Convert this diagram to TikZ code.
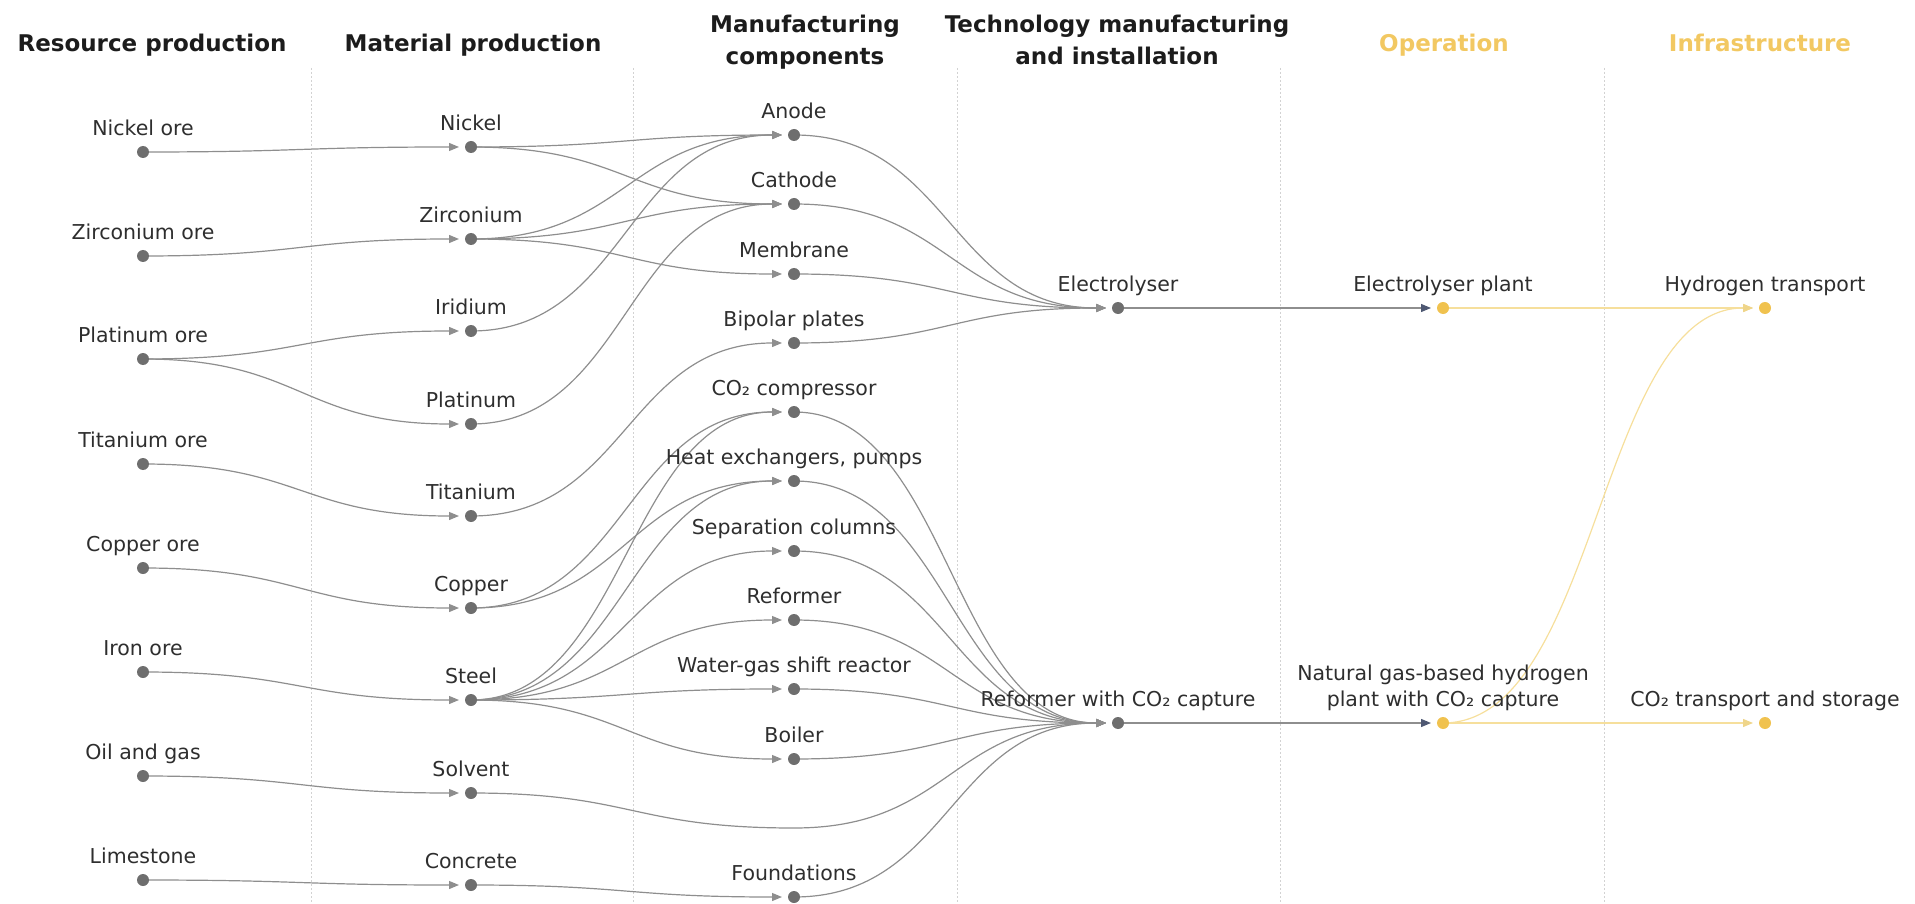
\documentclass[tikz,border=0pt]{standalone}
\usepackage{fontspec}
\setmainfont{DejaVu Sans}
\usetikzlibrary{arrows.meta,calc,backgrounds}
\definecolor{linkgray}{HTML}{8E8E8E}
\definecolor{dotgray}{HTML}{6E6E6E}
\definecolor{txt}{HTML}{2E2E2E}
\definecolor{hdr}{HTML}{1C1C1C}
\definecolor{gold}{HTML}{F0C24F}
\definecolor{goldhdr}{HTML}{F2C862}
\definecolor{goldline}{HTML}{F6DF9C}
\definecolor{goldarrow}{HTML}{EFD58A}
\definecolor{slate}{HTML}{4E5872}
\definecolor{divider}{HTML}{D2D2D2}
\newcommand\hlink[3][]{%
  \draw[link,#1] (#2.center) let \p1=(#2.center), \p2=([xshift=-12pt]#3.center) in
    .. controls ({(\x1+\x2)/2},\y1) and ({(\x1+\x2)/2},\y2) .. (\p2);}
\begin{document}
\begin{tikzpicture}[x=1pt,y=-1pt,
  dot/.style={circle,fill=dotgray,inner sep=0pt,minimum size=12pt},
  gdot/.style={dot,fill=gold},
  lbl/.style={font=\fontsize{20.5}{26}\selectfont,text=txt,inner sep=0pt,align=center,text depth=0pt,yshift=10pt},
  hd/.style={font=\fontsize{23}{32}\selectfont\bfseries,text=hdr,inner sep=0pt,align=center,anchor=south,text depth=0pt},
  link/.style={draw=linkgray,line width=1.2pt,-{Triangle[length=10pt,width=8pt]}},
  slink/.style={draw=linkgray,line width=1.2pt,-{Triangle[length=10pt,width=8pt,color=slate]}},
  ylink/.style={draw=goldline,line width=1.2pt,-{Triangle[length=10pt,width=8pt,color=goldarrow]}},
  div/.style={draw=divider,line width=0.8pt,dash pattern=on 2pt off 2pt}]
\useasboundingbox (0,0) rectangle (1915,904);

% headers
\node[hd] (h1) at (152,52) {Resource production};
\node[hd] (h2) at (473,52) {Material production};
\node[hd] (h3) at (805,65) {Manufacturing\\components};
\node[hd] (h4) at (1117,65) {Technology manufacturing\\and installation};
\node[hd,text=goldhdr] (h5) at (1444,52) {Operation};
\node[hd,text=goldhdr] (h6) at (1760,52) {Infrastructure};

% column 1
\node[dot,label={[lbl]90:Nickel ore}] (ore1) at (143,152) {};
\node[dot,label={[lbl]90:Zirconium ore}] (ore2) at (143,256) {};
\node[dot,label={[lbl]90:Platinum ore}] (ore3) at (143,359) {};
\node[dot,label={[lbl]90:Titanium ore}] (ore4) at (143,464) {};
\node[dot,label={[lbl]90:Copper ore}] (ore5) at (143,568) {};
\node[dot,label={[lbl]90:Iron ore}] (ore6) at (143,672) {};
\node[dot,label={[lbl]90:Oil and gas}] (ore7) at (143,776) {};
\node[dot,label={[lbl]90:Limestone}] (ore8) at (143,880) {};

% column 2
\node[dot,label={[lbl]90:Nickel}] (ni) at (471,147) {};
\node[dot,label={[lbl]90:Zirconium}] (zr) at (471,239) {};
\node[dot,label={[lbl]90:Iridium}] (ir) at (471,331) {};
\node[dot,label={[lbl]90:Platinum}] (pt) at (471,424) {};
\node[dot,label={[lbl]90:Titanium}] (ti) at (471,516) {};
\node[dot,label={[lbl]90:Copper}] (cu) at (471,608) {};
\node[dot,label={[lbl]90:Steel}] (st) at (471,700) {};
\node[dot,label={[lbl]90:Solvent}] (so) at (471,793) {};
\node[dot,label={[lbl]90:Concrete}] (co) at (471,885) {};

% column 3
\node[dot,label={[lbl]90:Anode}] (an) at (794,135) {};
\node[dot,label={[lbl]90:Cathode}] (ca) at (794,204) {};
\node[dot,label={[lbl]90:Membrane}] (me) at (794,274) {};
\node[dot,label={[lbl]90:Bipolar plates}] (bp) at (794,343) {};
\node[dot,label={[lbl]90:CO₂ compressor}] (cc) at (794,412) {};
\node[dot,label={[lbl]90:{Heat exchangers, pumps}}] (hx) at (794,481) {};
\node[dot,label={[lbl]90:Separation columns}] (sc) at (794,551) {};
\node[dot,label={[lbl]90:Reformer}] (rf) at (794,620) {};
\node[dot,label={[lbl]90:Water-gas shift reactor}] (wg) at (794,689) {};
\node[dot,label={[lbl]90:Boiler}] (bo) at (794,759) {};
\coordinate (dm) at (794,828);
\node[dot,label={[lbl]90:Foundations}] (fo) at (794,897) {};

% column 4
\node[dot,label={[lbl]90:Electrolyser}] (el) at (1118,308) {};
\node[dot,label={[lbl]90:Reformer with CO₂ capture}] (rc) at (1118,723) {};

% column 5
\node[gdot,label={[lbl]90:Electrolyser plant}] (ep) at (1443,308) {};
\node[gdot,label={[lbl]90:{Natural gas-based hydrogen\\plant with CO₂ capture}}] (ng) at (1443,723) {};

% column 6
\node[gdot,label={[lbl]90:Hydrogen transport}] (ht) at (1765,308) {};
\node[gdot,label={[lbl]90:CO₂ transport and storage}] (ct) at (1765,723) {};

\begin{scope}[on background layer]
  \foreach \dx in {311,633,957,1280,1604} \draw[div] (\dx,68) -- (\dx,904);
  % resources -> materials
  \hlink{ore1}{ni}
  \hlink{ore2}{zr}
  \hlink{ore3}{ir}
  \hlink{ore3}{pt}
  \hlink{ore4}{ti}
  \hlink{ore5}{cu}
  \hlink{ore6}{st}
  \hlink{ore7}{so}
  \hlink{ore8}{co}
  % materials -> components
  \hlink{ni}{an}
  \hlink{ni}{ca}
  \hlink{zr}{an}
  \hlink{zr}{ca}
  \hlink{zr}{me}
  \hlink{ir}{an}
  \hlink{pt}{ca}
  \hlink{ti}{bp}
  \hlink{cu}{cc}
  \hlink{cu}{hx}
  \hlink{st}{cc}
  \hlink{st}{hx}
  \hlink{st}{sc}
  \hlink{st}{rf}
  \hlink{st}{wg}
  \hlink{st}{bo}
  \hlink{co}{fo}
  % components -> technologies
  \hlink{an}{el}
  \hlink{ca}{el}
  \hlink{me}{el}
  \hlink{bp}{el}
  \hlink{cc}{rc}
  \hlink{hx}{rc}
  \hlink{sc}{rc}
  \hlink{rf}{rc}
  \hlink{wg}{rc}
  \hlink{bo}{rc}
  \hlink{fo}{rc}
  \draw[link] (so.center) let \p1=(so.center), \p2=(dm), \p3=([xshift=-12pt]rc.center) in
    .. controls ({(\x1+\x2)/2},\y1) and ({(\x1+\x2)/2},\y2) .. (\p2)
    .. controls ({(\x2+\x3)/2},\y2) and ({(\x2+\x3)/2},\y3) .. (\p3);
  % technologies -> operation
  \draw[slink] (el.center) -- ([xshift=-12pt]ep.center);
  \draw[slink] (rc.center) -- ([xshift=-12pt]ng.center);
  % operation -> infrastructure
  \draw[ylink] (ep.center) -- ([xshift=-12pt]ht.center);
  \draw[ylink] (ng.center) -- ([xshift=-12pt]ct.center);
  \hlink[ylink]{ng}{ht}
\end{scope}
\end{tikzpicture}
\end{document}
